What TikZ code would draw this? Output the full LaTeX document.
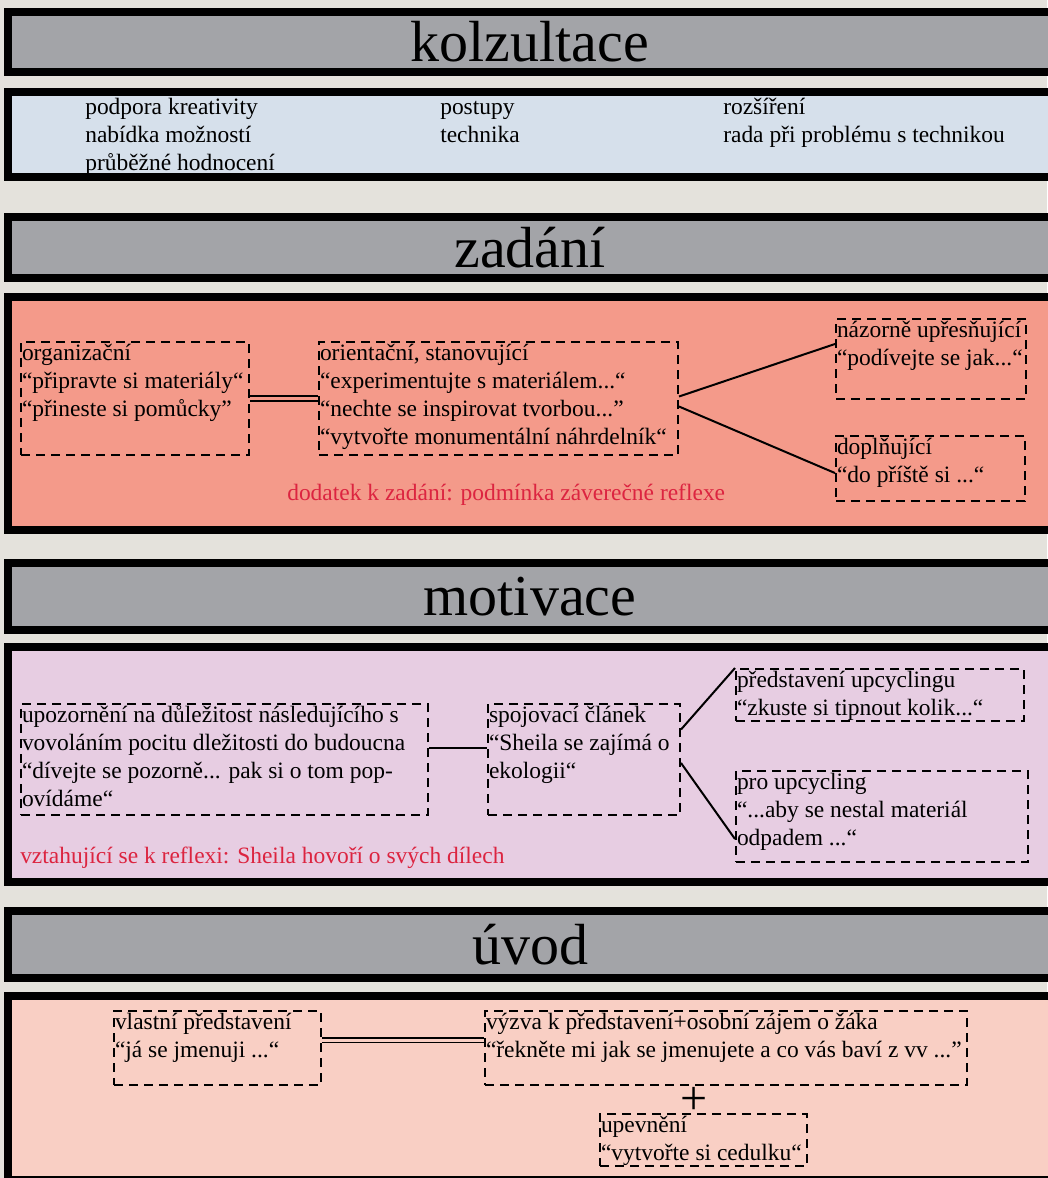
\documentclass[tikz,border=0pt]{standalone}
\usepackage{fontspec}
\setmainfont{Liberation Serif}

\definecolor{pozadi}{RGB}{228,226,220}
\definecolor{seda}{RGB}{163,164,168}
\definecolor{modra}{RGB}{214,224,235}
\definecolor{lososova}{RGB}{244,154,138}
\definecolor{levandulova}{RGB}{231,205,226}
\definecolor{ruzova}{RGB}{249,207,196}
\definecolor{cervena}{RGB}{220,36,64}

\newdimen\px \px=0.75pt
\newcommand{\prvni}{\rule{0pt}{17\px}}
\newcommand{\ramec}[3]{\parbox[t][#2\px][t]{#1\px}{\raggedright\prvni#3}}

\begin{document}
\begin{tikzpicture}[x=0.75pt, y=-0.75pt,
        nadpis/.style={draw=black, line width=6pt, fill=seda, minimum width=1044\px,
            font=\fontsize{43.5pt}{50pt}\selectfont},
        panel/.style={draw=black, line width=6pt},
        txt/.style={font=\fontsize{17.6pt}{21pt}\selectfont, inner sep=0pt, align=left},
        ramecek/.style={draw, dash pattern=on 6.75pt off 4.5pt, line width=1.5pt,
            inner sep=1\px, font=\fontsize{17.6pt}{21pt}\selectfont},
        pozn/.style={font=\fontsize{17.6pt}{21pt}\selectfont, text=cervena, inner sep=0pt},
        spoj/.style={line width=1.5pt},
        dvoj/.style={double, double distance=2.25pt, line width=1.8pt}
    ]
    \useasboundingbox (0,0) rectangle (1047,1178);
    \fill[pozadi] (0,0) rectangle (1047,1178);

    % Panely
    \draw[panel, fill=modra] (8,92) rectangle (1052,177);
    \draw[panel, fill=lososova] (8,297) rectangle (1052,530);
    \draw[panel, fill=levandulova] (8,647) rectangle (1052,882);
    \draw[panel, fill=ruzova] (8,996) rectangle (1052,1180);

    % Nadpisy
    \node[nadpis, minimum height=60\px] (kolz) at (530,42) {kolzultace};
    \node[nadpis, minimum height=61\px] (zad) at (530,247.5) {zadání};
    \node[nadpis, minimum height=67\px] (mot) at (530,596.5) {motivace};
    \node[nadpis, minimum height=67\px] (uvod) at (530,944.5) {úvod};

    % Kolzultace
    \node[txt, anchor=north west] (k1) at (85,97) {\prvni podpora kreativity\\nabídka možností\\průběžné hodnocení};
    \node[txt, anchor=north west] (k2) at (440,97) {\prvni postupy\\technika};
    \node[txt, anchor=north west] (k3) at (723,97) {\prvni rozšíření\\rada při problému s technikou};

    % Zadání
    \node[ramecek, anchor=north west] (org) at (20,341) {\ramec{226}{111}{organizační\\“připravte si materiály“\\“přineste si pomůcky”}};
    \node[ramecek, anchor=north west] (ori) at (318,341) {\ramec{357}{111}{orientační, stanovující\\“experimentujte s materiálem...“\\“nechte se inspirovat tvorbou...”\\“vytvořte monumentální náhrdelník“}};
    \node[ramecek, anchor=north west] (naz) at (835,318) {\ramec{188}{78}{názorně upřesňující\\“podívejte se jak...“}};
    \node[ramecek, anchor=north west] (dop) at (835,435) {\ramec{187}{63}{doplňující\\“do příště si ...“}};
    \draw[dvoj, double=lososova] (org) -- (ori);
    \draw[spoj] ([yshift=1.5pt]ori.east) -- ([yshift=11.25pt]naz.west);
    \draw[spoj] ([yshift=-6pt]ori.east) -- ([yshift=-3.4pt]dop.west);
    \node[pozn, anchor=base west] (dod) at (287,500) {dodatek k zadání: podmínka záverečné reflexe};

    % Motivace
    \node[ramecek, anchor=north west] (upo) at (20,703) {\ramec{405}{109}{upozornění na důležitost následujícího s\\vovoláním pocitu dležitosti do budoucna\\“dívejte se pozorně... pak si o tom pop-\\ovídáme“}};
    \node[ramecek, anchor=north west] (spo) at (487,703) {\ramec{190}{109}{spojovací článek\\“Sheila se zajímá o\\ekologii“}};
    \node[ramecek, anchor=north west] (pre) at (735,668) {\ramec{286}{50}{představení upcyclingu\\“zkuste si tipnout kolik...“}};
    \node[ramecek, anchor=north west] (pro) at (735,770) {\ramec{290}{89}{pro upcycling\\“...aby se nestal materiál\\odpadem ...“}};
    \draw[spoj] ([yshift=8.6pt]upo.east) -- ([yshift=8.6pt]spo.west);
    \draw[spoj] ([yshift=22.5pt]spo.east) -- (pre.north west);
    \draw[spoj] ([yshift=-2.6pt]spo.east) -- ([yshift=-16.9pt]pro.west);
    \node[pozn, anchor=base west] (vzt) at (20,863) {vztahující se k reflexi: Sheila hovoří o svých dílech};

    % Úvod
    \node[ramecek, anchor=north west] (vla) at (113,1010) {\ramec{205}{72}{vlastní představení\\“já se jmenuji ...“}};
    \node[ramecek, anchor=north west] (vyz) at (484,1010) {\ramec{480}{72}{výzva k představení+osobní zájem o žáka\\“řekněte mi jak se jmenujete a co vás baví z vv ...”}};
    \node[ramecek, anchor=north west] (upe) at (599,1113) {\ramec{205}{50}{upevnění\\“vytvořte si cedulku“}};
    \draw[dvoj, line width=1.3pt, double=ruzova] ([yshift=6pt]vla.east) -- ([yshift=6pt]vyz.west);
    \node[font=\fontsize{36pt}{40pt}\selectfont, inner sep=0pt] (plus) at (694,1101) {+};
\end{tikzpicture}
\end{document}
